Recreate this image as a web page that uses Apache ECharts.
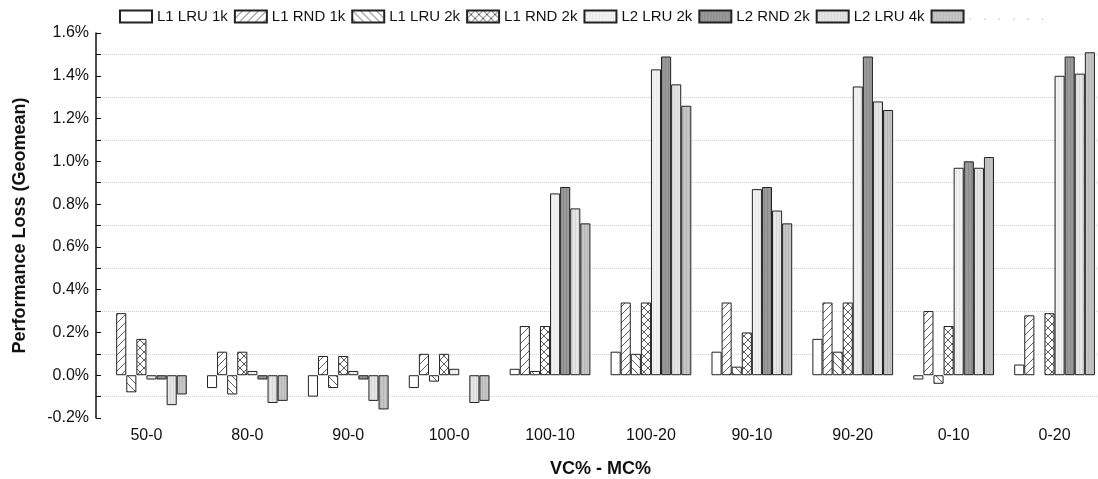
<!DOCTYPE html>
<html>
<head>
<meta charset="utf-8">
<script src="https://cdn.jsdelivr.net/npm/echarts@6/dist/echarts.min.js"></script>
<style>
  html, body { margin: 0; padding: 0; background: #fff; }
  #chart { width: 1098px; height: 479px; }
</style>
</head>
<body>
<div id="chart"></div>
<script>
// groups on the x axis (VC% - MC%)
const categories = ['50-0', '80-0', '90-0', '100-0', '100-10', '100-20', '90-10', '90-20', '0-10', '0-20'];
const seriesNames = ['L1 LRU 1k', 'L1 RND 1k', 'L1 LRU 2k', 'L1 RND 2k', 'L2 LRU 2k', 'L2 RND 2k', 'L2 LRU 4k', 'L2 RND 4k'];

// performance loss in %
const l1Lru1k = [null, -0.06, -0.10, -0.06, 0.03, 0.11, 0.11, 0.17, -0.02, 0.05];
const l1Rnd1k = [0.29, 0.11, 0.09, 0.10, 0.23, 0.34, 0.34, 0.34, 0.30, 0.28];
const l1Lru2k = [-0.08, -0.09, -0.06, -0.03, 0.02, 0.10, 0.04, 0.11, -0.04, null];
const l1Rnd2k = [0.17, 0.11, 0.09, 0.10, 0.23, 0.34, 0.20, 0.34, 0.23, 0.29];
const l2Lru2k = [-0.02, 0.02, 0.02, 0.03, 0.85, 1.43, 0.87, 1.35, 0.97, 1.40];
const l2Rnd2k = [-0.02, -0.02, -0.02, null, 0.88, 1.49, 0.88, 1.49, 1.00, 1.49];
const l2Lru4k = [-0.14, -0.13, -0.12, -0.13, 0.78, 1.36, 0.77, 1.28, 0.97, 1.41];
const l2Rnd4k = [-0.09, -0.12, -0.16, -0.12, 0.71, 1.26, 0.71, 1.24, 1.02, 1.51];

const seriesData = [l1Lru1k, l1Rnd1k, l1Lru2k, l1Rnd2k, l2Lru2k, l2Rnd2k, l2Lru4k, l2Rnd4k];

// 填充图案
function hatch(kind) {
  const s = 8;
  const c = document.createElement('canvas');
  c.width = s; c.height = s;
  const ctx = c.getContext('2d');
  ctx.fillStyle = '#fff';
  ctx.fillRect(0, 0, s, s);
  ctx.strokeStyle = '#333';
  ctx.lineWidth = 0.8;
  ctx.beginPath();
  if (kind === 'fwd' || kind === 'cross') {
    ctx.moveTo(-1, s + 1); ctx.lineTo(s + 1, -1);
    ctx.moveTo(-1, 1); ctx.lineTo(1, -1);
    ctx.moveTo(s - 1, s + 1); ctx.lineTo(s + 1, s - 1);
  }
  if (kind === 'back' || kind === 'cross') {
    ctx.moveTo(-1, -1); ctx.lineTo(s + 1, s + 1);
    ctx.moveTo(s - 1, -1); ctx.lineTo(s + 1, 1);
    ctx.moveTo(-1, s - 1); ctx.lineTo(1, s + 1);
  }
  ctx.stroke();
  return { image: c, repeat: 'repeat' };
}

function stripes(base, line) {
  const c = document.createElement('canvas');
  c.width = 3; c.height = 4;
  const ctx = c.getContext('2d');
  ctx.fillStyle = base;
  ctx.fillRect(0, 0, 3, 4);
  ctx.fillStyle = line;
  ctx.fillRect(2, 0, 1, 4);
  return { image: c, repeat: 'repeat' };
}

const fills = [
  '#ffffff',
  hatch('fwd'),
  hatch('back'),
  hatch('cross'),
  stripes('#f3f3f3', '#e6e6e6'),
  stripes('#9a9a9a', '#8a8a8a'),
  stripes('#e6e6e6', '#d6d6d6'),
  stripes('#c6c6c6', '#b6b6b6')
];

const chart = echarts.init(document.getElementById('chart'));

const option = {
  animation: false,
  textStyle: { fontFamily: 'Liberation Sans, Arial, sans-serif' },
  legend: {
    left: 119,
    top: 9,
    padding: 0,
    icon: 'rect',
    itemWidth: 32,
    itemHeight: 12,
    itemGap: 6,
    data: seriesNames,
    textStyle: {
      fontSize: 15,
      color: '#111',
      rich: { dots: { color: '#c8c8c8', fontSize: 13 } }
    },
    formatter: function (name) {
      if (name === 'L2 RND 4k') return '{dots|.   .   .   .   .   .}';
      return name;
    }
  },
  grid: {
    left: 96,
    top: 33,
    width: 1009,
    bottom: 61,
    outerBoundsMode: 'none'
  },
  xAxis: {
    type: 'category',
    data: categories,
    axisLine: { show: false },
    axisTick: { show: false },
    axisLabel: { fontSize: 16, color: '#111', margin: 10 },
    name: 'VC% - MC%',
    nameLocation: 'middle',
    nameGap: 42,
    nameTextStyle: { fontSize: 18, fontWeight: 'bold', color: '#111' }
  },
  yAxis: {
    type: 'value',
    min: -0.2,
    max: 1.6,
    interval: 0.2,
    axisLine: { show: true, lineStyle: { color: '#111', width: 1.5 } },
    axisTick: { show: true, inside: true, length: 5, lineStyle: { color: '#111' } },
    minorTick: { show: true, splitNumber: 2, length: 5, lineStyle: { color: '#111' } },
    splitLine: { show: false },
    minorSplitLine: { show: true, lineStyle: { color: '#d0d0d0', type: 'dotted', width: 1 } },
    axisLabel: {
      fontSize: 16,
      color: '#111',
      margin: 7,
      formatter: function (v) { return v.toFixed(1) + '%'; }
    },
    name: 'Performance Loss (Geomean)',
    nameLocation: 'middle',
    nameGap: 67,
    nameTextStyle: { fontSize: 18, fontWeight: 'bold', color: '#111' }
  },
  series: seriesNames.map(function (name, i) {
    return {
      name: name,
      type: 'bar',
      data: seriesData[i],
      barGap: '0%',
      barCategoryGap: '20%',
      itemStyle: {
        color: fills[i],
        borderColor: '#222',
        borderWidth: 1
      }
    };
  })
};

chart.setOption(option);
</script>
</body>
</html>
